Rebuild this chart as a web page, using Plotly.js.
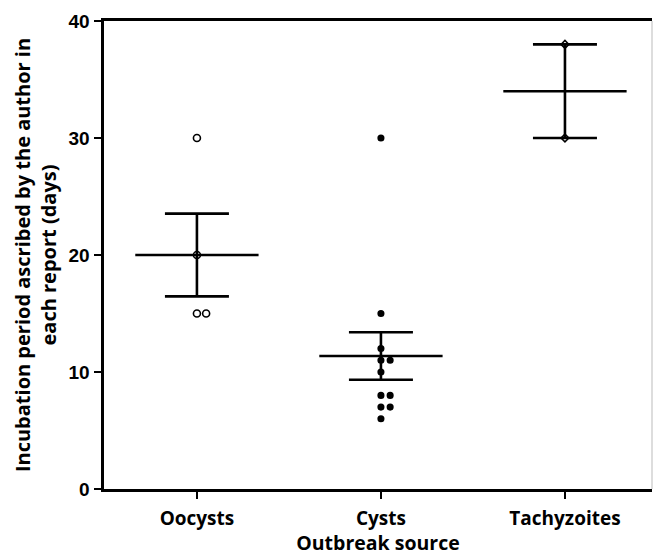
<!DOCTYPE html>
<html>
<head>
<meta charset="utf-8">
<script src="https://cdn.plot.ly/plotly-3.0.1.min.js"></script>
<style>html,body{margin:0;padding:0;background:#fff;}#chart{width:655px;height:556px;}</style>
</head>
<body>
<div id="chart"></div>
<script>
// Data (days)
const categories = ["Oocysts", "Cysts", "Tachyzoites"];
const oocystsValues = [30, 20, 15, 15];
const cystsValues = [30, 15, 12, 11, 11, 10, 8, 8, 7, 7, 6];
const tachyzoitesValues = [38, 30];
const yTickVals = [0, 10, 20, 30, 40];
const markerSymbols = ["circle-open", "circle", "diamond-open"];

const groups = [oocystsValues, cystsValues, tachyzoitesValues];

function mean(a) { return a.reduce((s, v) => s + v, 0) / a.length; }
function sem(a) {
  const m = mean(a);
  const v = a.reduce((s, x) => s + (x - m) * (x - m), 0) / (a.length - 1);
  return Math.sqrt(v) / Math.sqrt(a.length);
}
// simple scatter-dot spreading for duplicate values
function spread(vals, step) {
  const seen = {};
  return vals.map(v => {
    const k = seen[v] || 0;
    seen[v] = k + 1;
    const off = k === 0 ? 0 : (k % 2 === 1 ? 1 : -1) * Math.ceil(k / 2);
    return off * step;
  });
}

const traces = [];
const font = "'Open Sans', Lato, sans-serif";
const markerSizes = [7, 5.5, 6];
groups.forEach((vals, i) => {
  const offs = spread(vals, 0.05);
  traces.push({
    type: "scatter", mode: "markers",
    x: vals.map((v, j) => i + offs[j]), y: vals,
    marker: { symbol: markerSymbols[i], size: markerSizes[i], color: "#000", line: { color: "#000", width: 1.6 } },
    hoverinfo: "y", showlegend: false
  });
  const m = mean(vals), s = sem(vals);
  traces.push({
    type: "scatter", mode: "markers",
    x: [i], y: [m],
    marker: { size: 1, color: "#000" },
    error_y: { type: "data", array: [s], visible: true, color: "#000", thickness: 2.6, width: 32 },
    hoverinfo: "skip", showlegend: false
  });
  traces.push({
    type: "scatter", mode: "lines",
    x: [i - 0.335, i + 0.335], y: [m, m],
    line: { color: "#000", width: 2.6 },
    hoverinfo: "skip", showlegend: false
  });
});

const layout = {
  width: 655, height: 556,
  margin: { l: 104, r: 3, t: 21, b: 67 },
  paper_bgcolor: "#fff", plot_bgcolor: "#fff",
  showlegend: false,
  xaxis: {
    range: [-0.505, 2.473],
    tickmode: "array", tickvals: [0, 1, 2], ticktext: categories.map(c => "<b>" + c + "</b>"),
    ticks: "outside", ticklen: 7, tickwidth: 2.5, tickcolor: "#000",
    showline: true, linecolor: "#000", linewidth: 2.6, mirror: true,
    showgrid: false, zeroline: false, ticklabelstandoff: 4,
    tickfont: { family: font, size: 19, color: "#000", weight: 700 },
    title: { text: "<b>Outbreak source</b>", font: { family: font, size: 19.5, color: "#000", weight: 700 }, standoff: 3 }
  },
  yaxis: {
    range: [0, 40],
    tickmode: "array", tickvals: yTickVals, ticktext: yTickVals.map(v => "<b>" + v + "</b>"),
    ticks: "outside", ticklen: 7, tickwidth: 2.5, tickcolor: "#000",
    showline: true, linecolor: "#000", linewidth: 2.6,
    showgrid: false, zeroline: false, ticklabelstandoff: 1,
    tickfont: { family: "'Liberation Sans', Arial, sans-serif", size: 19, color: "#000", weight: 700 },
    title: { text: "<b>Incubation period ascribed by the author in<br>each report (days)</b>", font: { family: font, size: 20, color: "#000", weight: 700 }, standoff: 7 }
  },
  shapes: [
    { type: "line", xref: "paper", yref: "paper", x0: 1, x1: 1, y0: 0, y1: 1, line: { color: "#bbb", width: 1 } }
  ]
};

Plotly.newPlot("chart", traces, layout, { displayModeBar: false, staticPlot: true });
</script>
</body>
</html>
